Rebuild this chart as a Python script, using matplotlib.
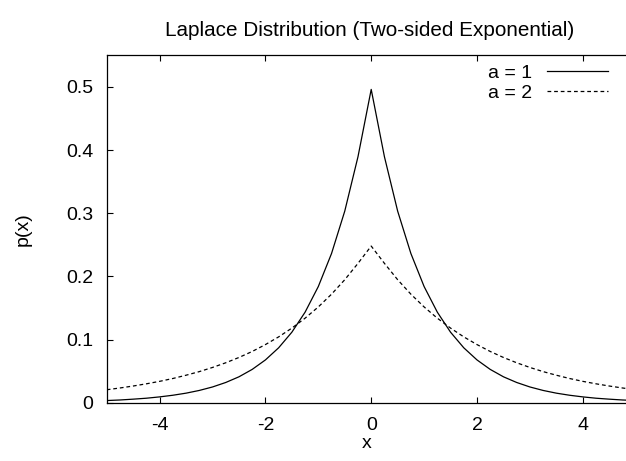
import matplotlib
matplotlib.use("Agg")
from matplotlib import pyplot as plt

plt.rcParams['font.family'] = ['Liberation Sans', 'DejaVu Sans']

# x positions (step 0.25)
xs = [-5.0, -4.75, -4.5, -4.25, -4.0, -3.75, -3.5, -3.25, -3.0, -2.75,
      -2.5, -2.25, -2.0, -1.75, -1.5, -1.25, -1.0, -0.75, -0.5, -0.25,
      0.0,
      0.25, 0.5, 0.75, 1.0, 1.25, 1.5, 1.75, 2.0, 2.25, 2.5,
      2.75, 3.0, 3.25, 3.5, 3.75, 4.0, 4.25, 4.5, 4.75, 5.0]

# a = 1 (solid)
p_a1 = [0.0034, 0.0043, 0.0056, 0.0071, 0.0092, 0.0118, 0.0151, 0.0194, 0.0249, 0.0320,
        0.0410, 0.0527, 0.0677, 0.0869, 0.1116, 0.1433, 0.1839, 0.2362, 0.3033, 0.3894,
        0.496,
        0.3894, 0.3033, 0.2362, 0.1839, 0.1433, 0.1116, 0.0869, 0.0677, 0.0527, 0.0410,
        0.0320, 0.0249, 0.0194, 0.0151, 0.0118, 0.0092, 0.0071, 0.0056, 0.0043, 0.0034]

# a = 2 (dashed)
p_a2 = [0.0205, 0.0233, 0.0264, 0.0299, 0.0338, 0.0383, 0.0435, 0.0492, 0.0558, 0.0632,
        0.0716, 0.0811, 0.0920, 0.1042, 0.1181, 0.1338, 0.1516, 0.1718, 0.1947, 0.2206,
        0.248,
        0.2206, 0.1947, 0.1718, 0.1516, 0.1338, 0.1181, 0.1042, 0.0920, 0.0811, 0.0716,
        0.0632, 0.0558, 0.0492, 0.0435, 0.0383, 0.0338, 0.0299, 0.0264, 0.0233, 0.0205]

x_ticks = [-4, -2, 0, 2, 4]
y_ticks = [0, 0.1, 0.2, 0.3, 0.4, 0.5]
y_tick_labels = ["0", "0.1", "0.2", "0.3", "0.4", "0.5"]

W, H = 626, 461
fig = plt.figure(figsize=(W / 100, H / 100), dpi=100)
# axes box in pixels: left 106.7, right 626 (cut at image edge), top 55.3, bottom 402.7
ax = fig.add_axes([106.7 / W, (H - 402.7) / H, (W - 106.7) / W + 0.002, (402.7 - 55.3) / H])

ax.plot(xs, p_a1, color="black", lw=0.9, label="a = 1")
ax.plot(xs, p_a2, color="black", lw=0.9, dashes=(3, 2.3), label="a = 2")

ax.set_xlim(-5, 4.84)
ax.set_ylim(0, 0.55)
ax.set_xticks(x_ticks)
ax.set_xticklabels([str(t) for t in x_ticks])
ax.set_yticks(y_ticks)
ax.set_yticklabels(y_tick_labels)

fs = 14
ax.tick_params(direction="in", length=4.5, width=0.8, top=True, right=False,
               labelsize=fs, colors="black")
ax.tick_params(axis="y", pad=9.5)
ax.tick_params(axis="x", pad=10)
for side in ["left", "bottom", "top"]:
    ax.spines[side].set_linewidth(0.9)
ax.spines["right"].set_visible(False)

ax.set_xlabel("x", fontsize=fs, labelpad=1)
ax.set_ylabel("p(x)", fontsize=fs, labelpad=25)
fig.text(370 / W, 1 - 31 / H, "Laplace Distribution (Two-sided Exponential)",
         ha="center", va="center", fontsize=14.9)

ax.legend(loc="upper right", frameon=False, markerfirst=False,
          bbox_to_anchor=(608 / W, 1 - 64 / H), bbox_transform=fig.transFigure,
          borderpad=0, borderaxespad=0, handlelength=3.14, handletextpad=0.77,
          labelspacing=0.14, fontsize=fs)

fig.savefig("out.png", dpi=100)
